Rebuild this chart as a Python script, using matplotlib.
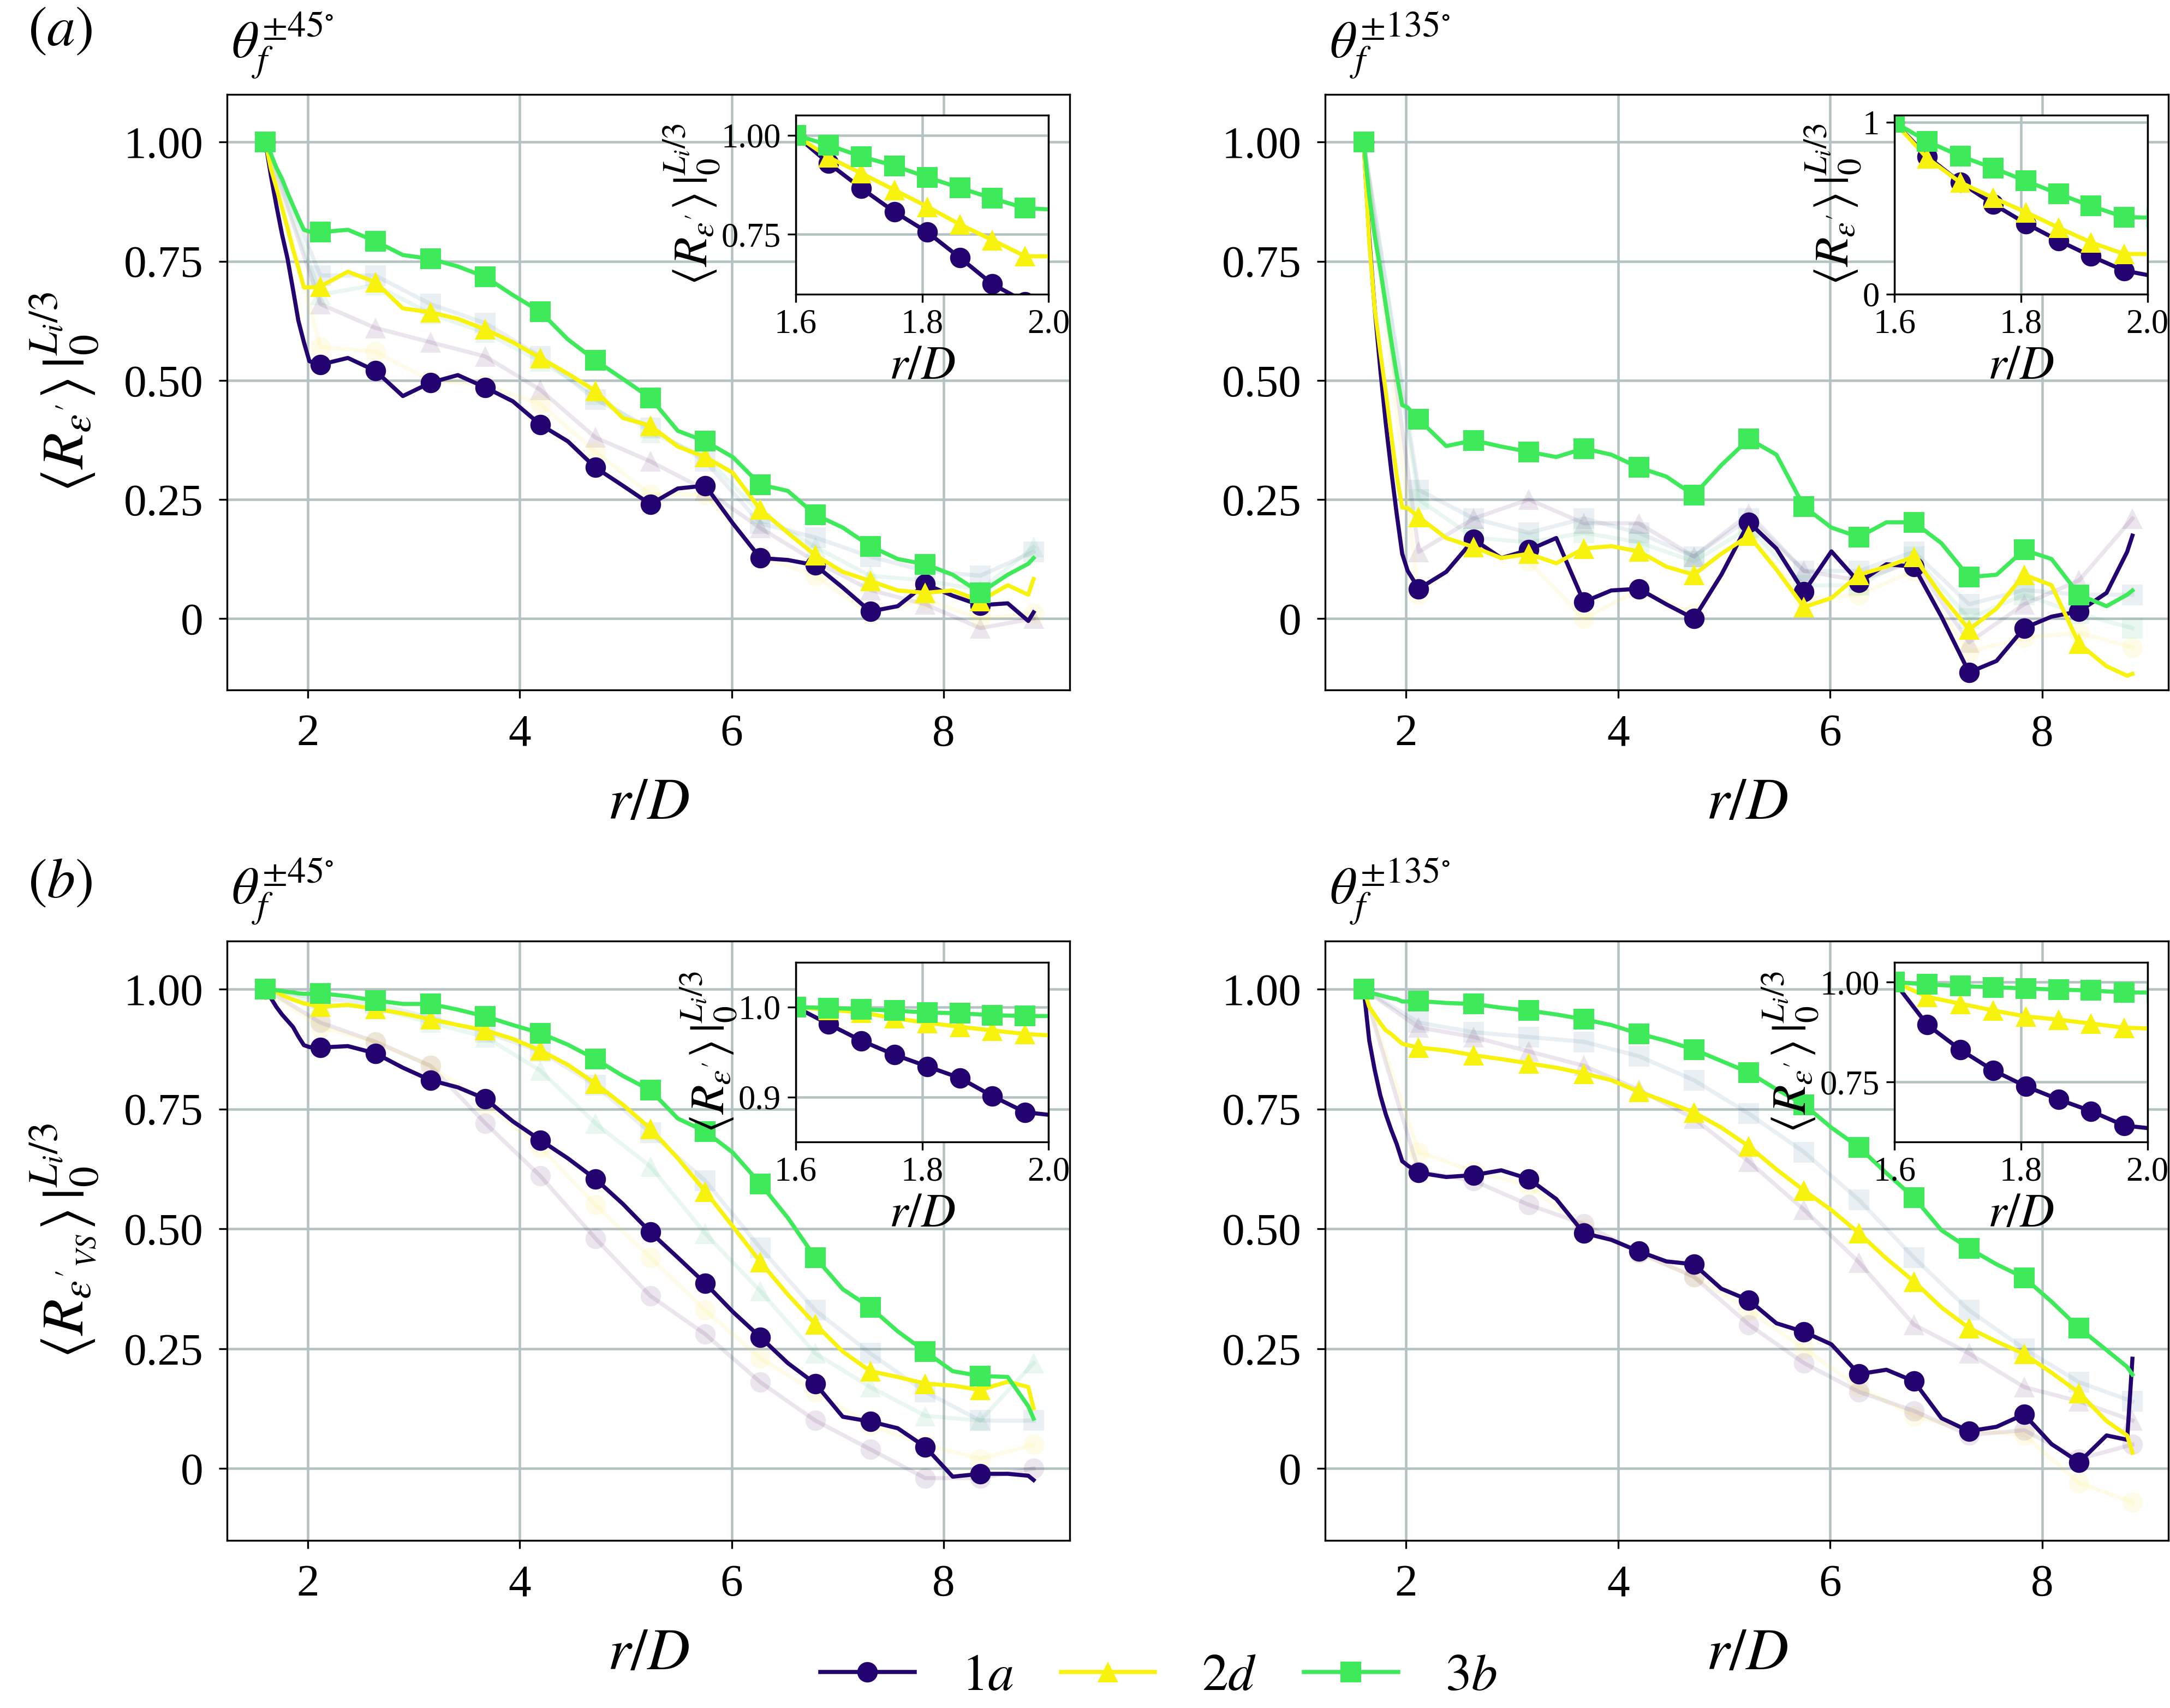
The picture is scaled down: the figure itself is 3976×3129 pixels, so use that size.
import numpy as np
import matplotlib
matplotlib.use('Agg')
import matplotlib.pyplot as plt

plt.rcParams['font.family'] = ['Liberation Serif', 'DejaVu Serif']
plt.rcParams['mathtext.fontset'] = 'stix'

# radial positions r/D (fine near the cylinder, coarser further out)
r = [1.6, 1.652, 1.704, 1.756, 1.808, 1.86, 1.911, 1.963, 2.015,
     2.119, 2.378, 2.638, 2.897, 3.157, 3.416, 3.676, 3.935, 4.195, 4.454,
     4.714, 4.973, 5.233, 5.492, 5.752, 6.011, 6.271, 6.53, 6.79, 7.049,
     7.309, 7.568, 7.828, 8.087, 8.347, 8.606, 8.8, 8.85]
# positions of the other (faded) cases
r_mk = [1.6, 2.119, 2.638, 3.157, 3.676, 4.195, 4.714, 5.233, 5.752,
        6.271, 6.79, 7.309, 7.828, 8.347, 8.85]

labels = ['$1a$', '$2d$', '$3b$']
colors = ['#23036f', '#f8f20f', '#3ee95a']
markers = ['o', '^', 's']

# (a) theta = +-45
a45_1a = [1.0, 0.929, 0.866, 0.807, 0.756, 0.691, 0.625, 0.58, 0.54,
          0.533, 0.547, 0.52, 0.467, 0.495, 0.511, 0.485, 0.456, 0.407, 0.372,
          0.317, 0.279, 0.24, 0.273, 0.279, 0.20, 0.127, 0.123, 0.112, 0.065,
          0.015, 0.026, 0.072, 0.048, 0.028, 0.032, -0.005, 0.013]
a45_2d = [1.0, 0.944, 0.904, 0.862, 0.82, 0.775, 0.736, 0.695, 0.695,
          0.697, 0.728, 0.706, 0.651, 0.643, 0.629, 0.607, 0.58, 0.547, 0.514,
          0.478, 0.421, 0.405, 0.361, 0.339, 0.306, 0.229, 0.18, 0.133, 0.098,
          0.079, 0.059, 0.054, 0.059, 0.037, 0.07, 0.05, 0.083]
a45_3b = [1.0, 0.975, 0.946, 0.923, 0.894, 0.867, 0.841, 0.816, 0.812,
          0.811, 0.816, 0.792, 0.763, 0.755, 0.739, 0.717, 0.679, 0.644, 0.586,
          0.542, 0.503, 0.463, 0.394, 0.372, 0.339, 0.281, 0.268, 0.218, 0.191,
          0.152, 0.125, 0.114, 0.092, 0.054, 0.092, 0.115, 0.127]

# (a) theta = +-135
a135_1a = [1.0, 0.80, 0.65, 0.524, 0.41, 0.31, 0.22, 0.136, 0.10,
           0.0625, 0.098, 0.166, 0.127, 0.144, 0.169, 0.035, 0.059, 0.0625, 0.03,
           0.0, 0.092, 0.202, 0.147, 0.056, 0.141, 0.076, 0.114, 0.109, 0.004,
           -0.113, -0.089, -0.02, 0.004, 0.015, 0.054, 0.14, 0.174]
a135_2d = [1.0, 0.79, 0.65, 0.56, 0.476, 0.385, 0.30, 0.233, 0.232,
           0.213, 0.169, 0.15, 0.127, 0.136, 0.116, 0.147, 0.152, 0.141, 0.109,
           0.092, 0.136, 0.174, 0.103, 0.024, 0.043, 0.092, 0.109, 0.13, 0.048,
           -0.023, 0.021, 0.092, 0.07, -0.053, -0.1, -0.12, -0.116]
a135_3b = [1.0, 0.888, 0.803, 0.733, 0.658, 0.582, 0.512, 0.448, 0.443,
           0.418, 0.362, 0.374, 0.361, 0.35, 0.339, 0.357, 0.344, 0.317, 0.298,
           0.259, 0.322, 0.377, 0.344, 0.235, 0.191, 0.171, 0.202, 0.202, 0.158,
           0.087, 0.092, 0.144, 0.125, 0.05, 0.026, 0.05, 0.059]

# (b) theta = +-45
b45_1a = [1.0, 0.981, 0.9625, 0.947, 0.934, 0.921, 0.901, 0.883, 0.879,
          0.878, 0.881, 0.866, 0.836, 0.81, 0.795, 0.771, 0.724, 0.685, 0.647,
          0.604, 0.552, 0.493, 0.44, 0.386, 0.327, 0.274, 0.22, 0.177, 0.108,
          0.098, 0.084, 0.045, -0.017, -0.011, -0.011, -0.015, -0.024]
b45_2d = [1.0, 0.997, 0.994, 0.9875, 0.9825, 0.978, 0.974, 0.97, 0.968,
          0.963, 0.967, 0.959, 0.949, 0.937, 0.925, 0.914, 0.896, 0.872, 0.842,
          0.803, 0.759, 0.709, 0.647, 0.578, 0.505, 0.431, 0.363, 0.301, 0.244,
          0.203, 0.191, 0.177, 0.173, 0.164, 0.181, 0.17, 0.126]
b45_3b = [1.0, 0.999, 0.9975, 0.996, 0.994, 0.993, 0.991, 0.99, 0.99,
          0.991, 0.985, 0.976, 0.969, 0.969, 0.957, 0.943, 0.925, 0.908, 0.884,
          0.854, 0.819, 0.789, 0.73, 0.703, 0.659, 0.594, 0.523, 0.44, 0.374,
          0.336, 0.286, 0.244, 0.203, 0.193, 0.191, 0.13, 0.104]

# (b) theta = +-135
b135_1a = [1.0, 0.893, 0.831, 0.779, 0.739, 0.706, 0.677, 0.641, 0.632,
           0.617, 0.608, 0.612, 0.622, 0.604, 0.562, 0.491, 0.477, 0.453, 0.432,
           0.426, 0.375, 0.351, 0.303, 0.285, 0.259, 0.197, 0.206, 0.182, 0.105,
           0.078, 0.087, 0.113, 0.051, 0.013, 0.069, 0.06, 0.229]
b135_2d = [1.0, 0.963, 0.946, 0.929, 0.914, 0.906, 0.896, 0.886, 0.883,
           0.878, 0.872, 0.862, 0.854, 0.845, 0.836, 0.824, 0.81, 0.786, 0.765,
           0.743, 0.711, 0.672, 0.624, 0.58, 0.539, 0.491, 0.438, 0.39, 0.336,
           0.293, 0.265, 0.239, 0.2, 0.158, 0.099, 0.069, 0.033]
b135_3b = [1.0, 0.994, 0.99, 0.987, 0.984, 0.981, 0.979, 0.974, 0.974,
           0.975, 0.971, 0.969, 0.961, 0.955, 0.947, 0.937, 0.925, 0.907, 0.892,
           0.874, 0.85, 0.826, 0.791, 0.759, 0.711, 0.67, 0.616, 0.565, 0.497,
           0.459, 0.426, 0.398, 0.348, 0.293, 0.247, 0.212, 0.196]

# faded background cases: (colour, marker, values at r_mk)
faint_a45 = [('#440154', '^', [1.0, 0.66, 0.61, 0.58, 0.55, 0.48, 0.38, 0.33, 0.27, 0.19, 0.12, 0.06, 0.03, -0.02, 0.0]),
             ('#fde725', 'o', [1.0, 0.57, 0.56, 0.50, 0.49, 0.45, 0.35, 0.26, 0.26, 0.13, 0.09, 0.01, 0.04, 0.0, 0.01]),
             ('#31688e', 's', [1.0, 0.72, 0.72, 0.66, 0.62, 0.55, 0.46, 0.40, 0.33, 0.20, 0.17, 0.13, 0.10, 0.09, 0.14]),
             ('#35b779', '^', [1.0, 0.68, 0.70, 0.64, 0.60, 0.54, 0.47, 0.39, 0.34, 0.22, 0.15, 0.09, 0.08, 0.06, 0.15])]
faint_a135 = [('#440154', '^', [1.0, 0.14, 0.21, 0.25, 0.20, 0.20, 0.13, 0.22, 0.10, 0.08, 0.12, -0.05, 0.03, 0.08, 0.21]),
              ('#31688e', 's', [1.0, 0.27, 0.21, 0.18, 0.21, 0.18, 0.13, 0.21, 0.10, 0.10, 0.14, 0.03, 0.06, 0.05, 0.05]),
              ('#fde725', 'o', [1.0, 0.05, 0.15, 0.12, 0.0, 0.06, 0.01, 0.18, 0.04, 0.05, 0.10, -0.07, -0.04, -0.03, -0.06]),
              ('#35b779', 's', [1.0, 0.25, 0.17, 0.16, 0.18, 0.16, 0.12, 0.19, 0.07, 0.07, 0.13, 0.0, 0.05, 0.01, -0.02])]
faint_b45 = [('#440154', 'o', [1.0, 0.93, 0.89, 0.84, 0.72, 0.61, 0.48, 0.36, 0.28, 0.18, 0.10, 0.04, -0.02, -0.02, 0.0]),
             ('#fde725', 'o', [1.0, 0.92, 0.89, 0.84, 0.76, 0.67, 0.55, 0.44, 0.33, 0.23, 0.16, 0.09, 0.05, 0.02, 0.05]),
             ('#35b779', '^', [1.0, 0.97, 0.96, 0.93, 0.90, 0.83, 0.72, 0.63, 0.49, 0.37, 0.24, 0.17, 0.11, 0.10, 0.22]),
             ('#31688e', 's', [1.0, 0.98, 0.97, 0.94, 0.91, 0.87, 0.80, 0.70, 0.60, 0.46, 0.33, 0.24, 0.16, 0.10, 0.10])]
faint_b135 = [('#31688e', 's', [1.0, 0.93, 0.91, 0.90, 0.89, 0.86, 0.81, 0.74, 0.66, 0.56, 0.44, 0.33, 0.25, 0.18, 0.14]),
              ('#440154', '^', [1.0, 0.92, 0.90, 0.87, 0.84, 0.79, 0.73, 0.64, 0.54, 0.43, 0.30, 0.24, 0.17, 0.14, 0.10]),
              ('#fde725', 'o', [1.0, 0.66, 0.62, 0.59, 0.50, 0.45, 0.40, 0.33, 0.25, 0.17, 0.11, 0.08, 0.07, -0.03, -0.07]),
              ('#440154', 'o', [1.0, 0.62, 0.60, 0.55, 0.51, 0.45, 0.40, 0.30, 0.22, 0.16, 0.12, 0.07, 0.08, 0.02, 0.05])]

main_yticks = [0, 0.25, 0.5, 0.75, 1.0]
main_yticklabels = ['0', '0.25', '0.50', '0.75', '1.00']

ylab_a = r"$\langle R_{\varepsilon'} \rangle\, |_{0}^{L_i/3}$"
ylab_b = r"$\langle R_{\varepsilon'_{VS}} \rangle\, |_{0}^{L_i/3}$"
ylab_ins = r"$\langle R_{\varepsilon'} \rangle\, |_{0}^{L_i/3}$"

grid_col = '#b4c2c2'
main_marks = [0, 9, 11, 13, 15, 17, 19, 21, 23, 25, 27, 29, 31, 33]
ins_marks = list(range(9))


def draw_panel(ax, series, faint, title, ylabel, ins_ylim, ins_ticks, ins_ticklabels):
    for col, mk, vals in faint:
        ax.plot(r_mk, vals, color=col, marker=mk, ms=9, lw=1.8, alpha=0.1, mew=0)
    for vals, col, mk, lab in zip(series, colors, markers, labels):
        ax.plot(r, vals, color=col, marker=mk, ms=9, lw=1.8, mew=0,
                markevery=main_marks, label=lab)
    ax.set_xlim(1.237, 9.19)
    ax.set_ylim(-0.15, 1.10)
    ax.set_xticks([2, 4, 6, 8])
    ax.set_yticks(main_yticks)
    ax.set_yticklabels(main_yticklabels)
    ax.tick_params(labelsize=20, pad=7)
    ax.grid(True, color=grid_col, lw=1.1)
    ax.set_axisbelow(True)
    ax.set_xlabel(r'$r/D$', fontsize=26, labelpad=10)
    ax.set_ylabel(ylabel, fontsize=26, labelpad=10)
    ax.text(0.005, 1.062, title, transform=ax.transAxes, fontsize=23,
            ha='left', va='baseline')

    ins = ax.inset_axes([0.675, 0.665, 0.30, 0.30])
    ins.set_zorder(5)
    for vals, col, mk in zip(series, colors, markers):
        ins.plot(r, vals, color=col, marker=mk, ms=9, lw=1.8, mew=0,
                 markevery=ins_marks)
    ins.set_xlim(1.6, 2.0)
    ins.set_ylim(*ins_ylim)
    ins.set_xticks([1.6, 1.8, 2.0])
    ins.set_xticklabels(['1.6', '1.8', '2.0'])
    ins.set_yticks(ins_ticks)
    ins.set_yticklabels(ins_ticklabels)
    ins.tick_params(labelsize=15, pad=3)
    ins.grid(True, color=grid_col, lw=1.1)
    ins.set_xlabel(r'$r/D$', fontsize=21, labelpad=2)
    ins.set_ylabel(ylab_ins, fontsize=21, labelpad=0)
    return ins


fig = plt.figure(figsize=(3976 / 300, 3129 / 300), dpi=300)
ax1 = fig.add_axes([0.1046, 0.596, 0.3883, 0.3487])
ax2 = fig.add_axes([0.6107, 0.596, 0.3886, 0.3487])
ax3 = fig.add_axes([0.1046, 0.0981, 0.3883, 0.3509])
ax4 = fig.add_axes([0.6107, 0.0981, 0.3886, 0.3509])

draw_panel(ax1, [a45_1a, a45_2d, a45_3b], faint_a45, r'$\theta_f^{\pm 45^{\circ}}$',
           ylab_a, (0.60, 1.05), [0.75, 1.0], ['0.75', '1.00'])
draw_panel(ax2, [a135_1a, a135_2d, a135_3b], faint_a135, r'$\theta_f^{\pm 135^{\circ}}$',
           '', (0.0, 1.04), [0, 1], ['0', '1'])
draw_panel(ax3, [b45_1a, b45_2d, b45_3b], faint_b45, r'$\theta_f^{\pm 45^{\circ}}$',
           ylab_b, (0.85, 1.05), [0.9, 1.0], ['0.9', '1.0'])
draw_panel(ax4, [b135_1a, b135_2d, b135_3b], faint_b135, r'$\theta_f^{\pm 135^{\circ}}$',
           '', (0.60, 1.05), [0.75, 1.0], ['0.75', '1.00'])

fig.text(0.0128, 0.9815, r'$(a)$', fontsize=25, ha='left', va='center')
fig.text(0.0128, 0.4826, r'$(b)$', fontsize=25, ha='left', va='center')

handles, labs = ax1.get_legend_handles_labels()
fig.legend(handles, labs, loc='center', bbox_to_anchor=(0.534, 0.018), ncol=3,
           frameon=False, fontsize=23, handlelength=1.8, handletextpad=0.9,
           columnspacing=0.9)

fig.savefig('out.png', dpi=300)
